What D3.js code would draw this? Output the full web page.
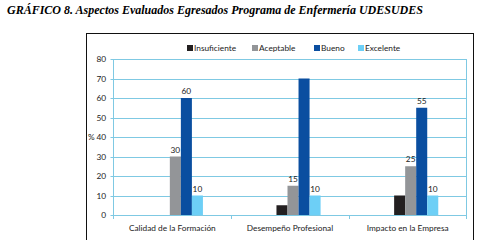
<!DOCTYPE html>
<html lang="es">
<head>
<meta charset="UTF-8" />
<title>Gráfico 8</title>
<script src="https://cdn.jsdelivr.net/npm/d3@7"></script>
<style>
  body { margin: 0; background: #fff; }
  svg { display: block; }
</style>
</head>
<body>
<svg id="chart" width="478" height="240"></svg>
<script>
// data
var categories = ["Calidad de la Formación", "Desempeño Profesional", "Impacto en la Empresa"];
var series = ["Insuficiente", "Aceptable", "Bueno", "Excelente"];
var insuficiente = [0, 5, 10];
var aceptable = [30, 15, 25];
var bueno = [60, 70, 55];
var excelente = [10, 10, 10];
// which values carry a data label in the original
var insuficienteLabels = [false, false, false];
var aceptableLabels = [true, true, true];
var buenoLabels = [true, false, true];
var excelenteLabels = [true, true, true];
var yTicks = [0, 10, 20, 30, 40, 50, 60, 70, 80];

var colors = ["#231f20", "#939598", "#0a4ea0", "#6dcff6"];
var values = [insuficiente, aceptable, bueno, excelente];
var labels = [insuficienteLabels, aceptableLabels, buenoLabels, excelenteLabels];

var svg = d3.select("#chart");
var font = "Lato, 'Open Sans', sans-serif";
var gridColor = "#7fc9e3";

// title
svg.append("text")
  .attr("x", 7).attr("y", 14)
  .attr("font-family", "'Liberation Serif', 'Times New Roman', serif")
  .attr("font-style", "italic").attr("font-weight", "bold")
  .attr("font-size", 12)
  .text("GRÁFICO 8. Aspectos Evaluados Egresados Programa de Enfermería UDESUDES");

// chart frame
svg.append("rect")
  .attr("x", 86.5).attr("y", 33.5)
  .attr("width", 387).attr("height", 220)
  .attr("fill", "none").attr("stroke", "#111").attr("stroke-width", 1);

var plotLeft = 113.5, plotRight = 466.5, plotTop = 59, plotBottom = 215;

var y = d3.scaleLinear().domain([0, 80]).range([plotBottom, plotTop]);
var x0 = d3.scaleBand().domain(categories).range([plotLeft, plotRight]);
var x1 = d3.scaleBand().domain(series)
  .range([x0.bandwidth() * 0.385, x0.bandwidth() * 0.76]);

// gridlines
svg.append("g").selectAll("line").data(yTicks).join("line")
  .attr("x1", plotLeft - 3).attr("x2", plotRight)
  .attr("y1", function(d) { return Math.round(y(d)) + 0.5; })
  .attr("y2", function(d) { return Math.round(y(d)) + 0.5; })
  .attr("stroke", gridColor).attr("stroke-width", 1);

svg.append("line")
  .attr("x1", plotRight).attr("x2", plotRight).attr("y1", plotTop).attr("y2", plotBottom + 4)
  .attr("stroke", gridColor);
svg.append("line")
  .attr("x1", plotLeft).attr("x2", plotLeft).attr("y1", plotTop).attr("y2", plotBottom + 4)
  .attr("stroke", gridColor);

// category separators
svg.append("g").selectAll("line").data(categories.slice(1)).join("line")
  .attr("x1", function(d) { return Math.round(x0(d)) + 0.5; })
  .attr("x2", function(d) { return Math.round(x0(d)) + 0.5; })
  .attr("y1", plotBottom).attr("y2", plotBottom + 4)
  .attr("stroke", gridColor);

// y tick labels
svg.append("g").selectAll("text").data(yTicks).join("text")
  .attr("x", 106).attr("y", function(d) { return y(d) + 3; })
  .attr("text-anchor", "end")
  .attr("font-family", font).attr("font-size", 8.3).attr("fill", "#222")
  .text(function(d) { return d; });

svg.append("text")
  .attr("x", 88).attr("y", y(40) + 3)
  .attr("font-family", font).attr("font-size", 8.3).attr("fill", "#222")
  .text("%");

// bars
var groups = svg.append("g").selectAll("g").data(categories).join("g")
  .attr("transform", function(d) { return "translate(" + x0(d) + ",0)"; });

groups.selectAll("rect")
  .data(function(d, i) {
    return series.map(function(s, j) { return { s: s, v: values[j][i], c: colors[j] }; });
  })
  .join("rect")
  .attr("x", function(d) { return x1(d.s); })
  .attr("width", x1.bandwidth())
  .attr("y", function(d) { return y(d.v); })
  .attr("height", function(d) { return plotBottom - y(d.v); })
  .attr("fill", function(d) { return d.c; });

groups.selectAll("text")
  .data(function(d, i) {
    return series.map(function(s, j) { return { s: s, v: values[j][i], show: labels[j][i] }; })
      .filter(function(d) { return d.show; });
  })
  .join("text")
  .attr("x", function(d) { return x1(d.s) + x1.bandwidth() / 2; })
  .attr("y", function(d) { return y(d.v) - 4; })
  .attr("text-anchor", "middle")
  .attr("font-family", font).attr("font-size", 8.3).attr("fill", "#222")
  .text(function(d) { return d.v; });

// x labels
svg.append("g").selectAll("text").data(categories).join("text")
  .attr("x", function(d) { return x0(d) + x0.bandwidth() / 2; })
  .attr("y", 231)
  .attr("text-anchor", "middle")
  .attr("font-family", font).attr("font-size", 8.3).attr("fill", "#222")
  .text(function(d) { return d; });

// legend
var legendX = [187, 252, 314, 358];
var legend = svg.append("g").selectAll("g").data(series).join("g")
  .attr("transform", function(d, i) { return "translate(" + legendX[i] + ",45)"; });
legend.append("rect")
  .attr("width", 6).attr("height", 6)
  .attr("fill", function(d, i) { return colors[i]; });
legend.append("text")
  .attr("x", 7).attr("y", 6)
  .attr("font-family", font).attr("font-size", 8.3).attr("fill", "#222")
  .text(function(d) { return d; });
</script>
</body>
</html>
